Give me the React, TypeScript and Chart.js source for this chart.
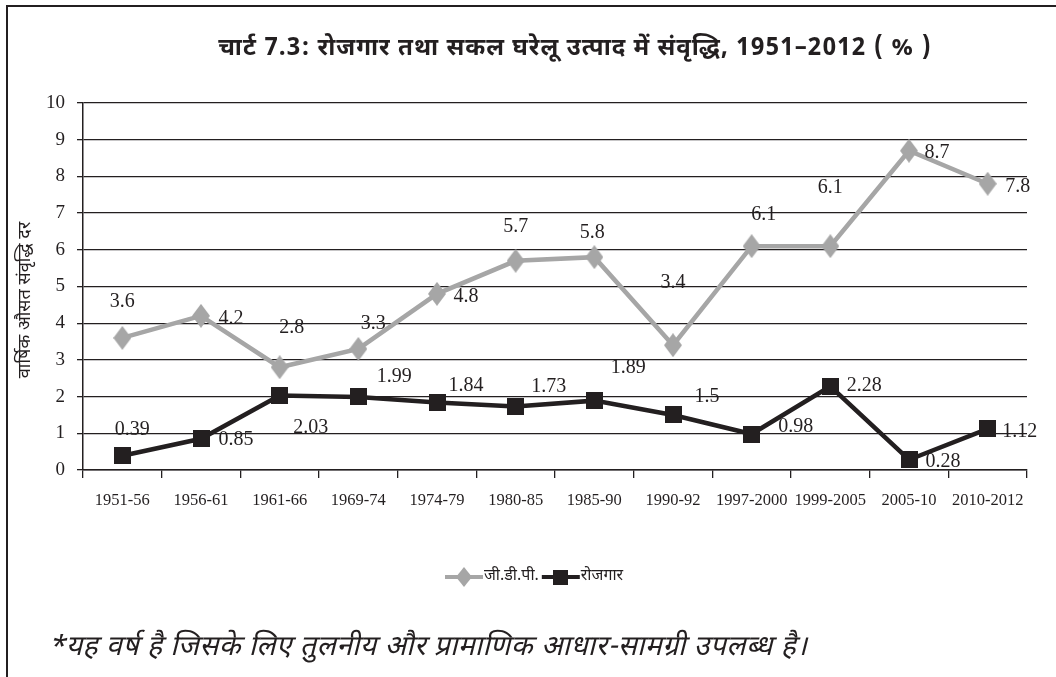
import React, { useEffect, useRef } from "react";
import { Chart, registerables } from "chart.js";

Chart.register(...registerables);

// ---------------- data ----------------
const categories = [
  "1951-56", "1956-61", "1961-66", "1969-74", "1974-79", "1980-85",
  "1985-90", "1990-92", "1997-2000", "1999-2005", "2005-10", "2010-2012",
];
const gdpValues = [3.6, 4.2, 2.8, 3.3, 4.8, 5.7, 5.8, 3.4, 6.1, 6.1, 8.7, 7.8];
const employmentValues = [0.39, 0.85, 2.03, 1.99, 1.84, 1.73, 1.89, 1.5, 0.98, 2.28, 0.28, 1.12];
const seriesNames = ["जी.डी.पी.", "रोजगार"];
const yMin = 0;
const yMax = 10;
const yStep = 1;
const titleText = "चार्ट 7.3: रोजगार तथा सकल घरेलू उत्पाद में संवृद्धि, 1951–2012 ( % )";
const yAxisTitle = "वार्षिक औसत संवृद्धि दर";
const footnoteText = "*यह वर्ष है जिसके लिए तुलनीय और प्रामाणिक आधार-सामग्री उपलब्ध है।";

// label placement offsets (px, relative to each point)
const gdpLabelOffsets = [
  [0, -36], [30, 3], [12, -39], [15, -25], [29, 3], [0, -34],
  [-2, -24], [0, -62], [12, -31], [0, -58], [28, 2], [30, 3],
];
const empLabelOffsets = [
  [10, -26], [35, 1], [31, 32], [36, -20], [29, -17], [33, -20],
  [34, -33], [34, -18], [44, -7], [34, -1], [34, 2], [32, 3],
];

// ---------------- styles ----------------
const GRAY = "#a6a6a6";
const DARK = "#231f20";
const SERIF = '"Liberation Serif", "Times New Roman", serif';
const DEVA = '"Noto Sans Devanagari", "Lohit Devanagari", "Mukta", "Noto Sans", "DejaVu Sans", sans-serif';

function makeDiamond(color: string, hw: number, hh: number) {
  const c = document.createElement("canvas");
  c.width = hw * 2;
  c.height = hh * 2;
  const ctx = c.getContext("2d")!;
  ctx.fillStyle = color;
  ctx.beginPath();
  ctx.moveTo(hw, 0);
  ctx.lineTo(2 * hw, hh);
  ctx.lineTo(hw, 2 * hh);
  ctx.lineTo(0, hh);
  ctx.closePath();
  ctx.fill();
  return c;
}

function makeSquare(color: string, s: number) {
  const c = document.createElement("canvas");
  c.width = s;
  c.height = s;
  const ctx = c.getContext("2d")!;
  ctx.fillStyle = color;
  ctx.fillRect(0, 0, s, s);
  return c;
}

function fitFont(ctx: CanvasRenderingContext2D, text: string, style: string, target: number, spacing: number) {
  (ctx as any).letterSpacing = `${spacing}px`;
  ctx.font = `${style} 20px ${DEVA}`;
  const w = ctx.measureText(text).width;
  const size = Math.max(10, Math.min(30, (20 * target) / w));
  ctx.font = `${style} ${size.toFixed(1)}px ${DEVA}`;
}

export default function App() {
  const ref = useRef<HTMLCanvasElement | null>(null);

  useEffect(() => {
    if (!ref.current) return;
    const diamond = makeDiamond(GRAY, 9, 12);
    const square = makeSquare(DARK, 17);
    const legendDiamond = makeDiamond(GRAY, 8, 10);
    const legendSquare = makeSquare(DARK, 15);

    const decor = {
      id: "decor",
      afterDatasetsDraw(chart: any) {
        const ctx = chart.ctx as CanvasRenderingContext2D;
        ctx.save();
        ctx.font = `20px ${SERIF}`;
        ctx.fillStyle = DARK;
        ctx.textAlign = "center";
        ctx.textBaseline = "middle";
        const sets = [
          { vals: gdpValues, offs: gdpLabelOffsets },
          { vals: employmentValues, offs: empLabelOffsets },
        ];
        sets.forEach((s, di) => {
          const meta = chart.getDatasetMeta(di);
          meta.data.forEach((pt: any, i: number) => {
            ctx.fillText(String(s.vals[i]), pt.x + s.offs[i][0], pt.y + s.offs[i][1]);
          });
        });
        ctx.restore();
      },
      afterDraw(chart: any) {
        const ctx = chart.ctx as CanvasRenderingContext2D;
        ctx.save();
        ctx.fillStyle = DARK;
        // title
        ctx.textAlign = "center";
        ctx.textBaseline = "middle";
        fitFont(ctx, titleText, "bold", 724, 1);
        ctx.fillText(titleText, 575, 50);
        (ctx as any).letterSpacing = "0px";
        // y title
        ctx.save();
        ctx.translate(27, 300);
        ctx.rotate(-Math.PI / 2);
        ctx.font = `18px ${DEVA}`;
        ctx.fillText(yAxisTitle, 0, 0);
        ctx.restore();
        // legend
        const ly = 577;
        let x = 445;
        ctx.font = `16px ${DEVA}`;
        ctx.textAlign = "left";
        ctx.lineWidth = 4;
        ctx.strokeStyle = GRAY;
        ctx.beginPath();
        ctx.moveTo(x, ly);
        ctx.lineTo(x + 38, ly);
        ctx.stroke();
        ctx.drawImage(legendDiamond, x + 19 - legendDiamond.width / 2, ly - legendDiamond.height / 2);
        x += 39;
        ctx.fillText(seriesNames[0], x, ly);
        x += ctx.measureText(seriesNames[0]).width + 3;
        ctx.strokeStyle = DARK;
        ctx.beginPath();
        ctx.moveTo(x, ly);
        ctx.lineTo(x + 38, ly);
        ctx.stroke();
        ctx.drawImage(legendSquare, x + 19 - legendSquare.width / 2, ly - legendSquare.height / 2);
        x += 39;
        ctx.fillText(seriesNames[1], x, ly);
        // footnote
        fitFont(ctx, footnoteText, "italic", 770, 0.5);
        ctx.fillText(footnoteText, 48, 650);
        (ctx as any).letterSpacing = "0px";
        ctx.restore();
      },
    };

    const chart = new Chart(ref.current, {
      type: "line",
      data: {
        labels: categories,
        datasets: [
          {
            label: seriesNames[0],
            data: gdpValues,
            borderColor: GRAY,
            backgroundColor: GRAY,
            borderWidth: 4.5,
            pointStyle: diamond as any,
            pointRadius: 10,
            tension: 0,
          },
          {
            label: seriesNames[1],
            data: employmentValues,
            borderColor: DARK,
            backgroundColor: DARK,
            borderWidth: 4.5,
            pointStyle: square as any,
            pointRadius: 10,
            tension: 0,
          },
        ],
      },
      options: {
        responsive: false,
        animation: false,
        layout: { padding: { left: 0, right: 29, top: 103, bottom: 147 } },
        plugins: {
          legend: { display: false },
          title: { display: false },
          tooltip: { enabled: false },
        },
        scales: {
          x: {
            type: "category",
            offset: true,
            grid: {
              offset: true,
              drawOnChartArea: false,
              drawTicks: true,
              tickLength: 8,
              color: DARK,
              lineWidth: 1.3,
            },
            border: { display: true, color: DARK, width: 1.5 },
            ticks: {
              color: DARK,
              font: { family: SERIF, size: 16.5 },
              padding: 13,
              maxRotation: 0,
              autoSkip: false,
            },
            afterFit(scale: any) {
              scale.height = 60;
            },
          },
          y: {
            min: yMin,
            max: yMax,
            ticks: {
              stepSize: yStep,
              color: DARK,
              font: { family: SERIF, size: 19 },
              padding: 12,
            },
            grid: { color: DARK, lineWidth: 1.3, tickLength: 6, drawTicks: true },
            border: { display: true, color: DARK, width: 1.5 },
            afterFit(scale: any) {
              scale.width = 83;
            },
          },
        },
      },
      plugins: [decor],
    });
    return () => chart.destroy();
  }, []);

  return (
    <div style={{ position: "fixed", left: 0, top: 0, width: 1056, height: 677, overflow: "hidden", background: "#fff" }}>
      <div
        style={{
          position: "absolute",
          left: 6,
          top: 5,
          width: 1050,
          height: 672,
          borderLeft: `2px solid ${DARK}`,
          borderTop: `2px solid ${DARK}`,
          boxSizing: "border-box",
        }}
      />
      <canvas ref={ref} width={1056} height={677} style={{ position: "absolute", left: 0, top: 0 }} />
    </div>
  );
}
